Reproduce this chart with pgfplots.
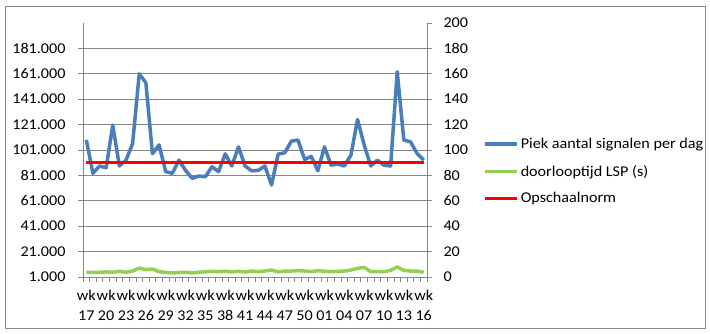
\documentclass[border=0pt]{standalone}
\usepackage{pgfplots}
\pgfplotsset{compat=1.18}
\usepackage{fontspec}
\setmainfont{Carlito}[FakeStretch=1.08]
\definecolor{xlblue}{RGB}{74,126,187}
\definecolor{xlgreen}{RGB}{146,208,80}
\definecolor{xlred}{RGB}{255,0,0}
\definecolor{gridgray}{RGB}{134,134,134}
\pgfplotstableread{
x blue green
0 109 3.7
1 82.6 3.7
2 88.4 3.7
3 87 4
4 120.6 3.7
5 88.4 4.5
6 93 3.7
7 106 4.7
8 161 7
9 154 5.8
10 98 6.3
11 105 4.2
12 84 3.7
13 82.6 3.2
14 93 3.5
15 85 3.7
16 78.7 3.2
17 80.5 3.7
18 80 4.2
19 87.8 4.5
20 84 4.2
21 98 4.5
22 88.4 4
23 103.5 4.5
24 88.4 4
25 84.6 4.7
26 85 4.2
27 88.4 4.7
28 73.4 5.5
29 97.8 4
30 98.8 4.7
31 108 4.7
32 108.8 5
33 93.6 4.7
34 96 4.2
35 84.6 5
36 103.5 4.5
37 89 4.2
38 90 4.5
39 88.4 4.7
40 97 5.5
41 125 6.8
42 105 7.6
43 88.4 4.2
44 93 4.2
45 89 4.2
46 88.4 5.2
47 162.6 7.9
48 108.8 5.2
49 107.5 4.7
50 98.3 4.7
51 93 3.7
}\datatable
\pgfplotstableread{
x red
0 91
51 91
}\redtable
\begin{document}
\begin{tikzpicture}
\useasboundingbox (-83bp,-57bp) rectangle (627bp,277bp);
\draw[gridgray, line width=0.8bp] (-78bp,-51bp) rectangle (622bp,271bp);
\begin{axis}[
  at={(0,0)}, anchor=south west,
  scale only axis, width=344bp, height=254bp,
  xmin=-0.5, xmax=51.5, ymin=1, ymax=201,
  axis x line*=bottom, axis y line*=left,
  axis line style={gridgray, line width=0.8bp},
  tick align=outside, major tick length=5bp,
  tick style={gridgray, line width=0.8bp},
  ytick={1,21,...,181},
  yticklabels={1.000,21.000,41.000,61.000,81.000,101.000,121.000,141.000,161.000,181.000},
  ymajorgrids, grid style={gridgray, line width=0.8bp},
  xtick={-0.5,0.5,...,51.5}, xticklabels={},
  extra x ticks={0,3,...,51},
  extra x tick labels={wk\\17,wk\\20,wk\\23,wk\\26,wk\\29,wk\\32,wk\\35,wk\\38,wk\\41,wk\\44,wk\\47,wk\\50,wk\\01,wk\\04,wk\\07,wk\\10,wk\\13,wk\\16},
  extra x tick style={tick style={draw=none}, grid=none},
  xticklabel style={align=center, font=\fontsize{15}{20}\selectfont, inner sep=1bp, yshift=-7bp},
  yticklabel style={font=\fontsize{15}{19}\selectfont, xshift=-9bp},
  legend style={at={(1.163,0.555)}, anchor=north west, draw=none, fill=none,
    font=\fontsize{15}{19}\selectfont, row sep=11bp, inner sep=0pt},
  legend cell align=left,
  legend image code/.code={\draw[#1] (0bp,0bp) -- (32bp,0bp);},
]
\addplot[xlblue, line width=3.5bp, line join=round] table[x=x, y=blue] {\datatable};
\addlegendentry{Piek aantal signalen per dag}
\addlegendimage{xlgreen, line width=3.5bp}
\addlegendentry{doorlooptijd LSP (s)}
\addplot[xlred, line width=3.5bp] table[x=x, y=red] {\redtable};
\addlegendentry{Opschaalnorm}
\end{axis}
\begin{axis}[
  at={(0,0)}, anchor=south west,
  scale only axis, width=344bp, height=254bp,
  xmin=-0.5, xmax=51.5, ymin=0, ymax=200,
  axis x line=none, axis y line*=right,
  axis line style={gridgray, line width=0.8bp},
  tick align=outside, major tick length=5bp,
  tick style={gridgray, line width=0.8bp},
  ytick={0,20,...,200},
  yticklabel style={font=\fontsize{15}{19}\selectfont, xshift=8bp},
  /pgf/number format/assume math mode=true,
]
\addplot[xlgreen, line width=3.5bp, line join=round] table[x=x, y=green] {\datatable};
\end{axis}
\end{tikzpicture}
\end{document}
